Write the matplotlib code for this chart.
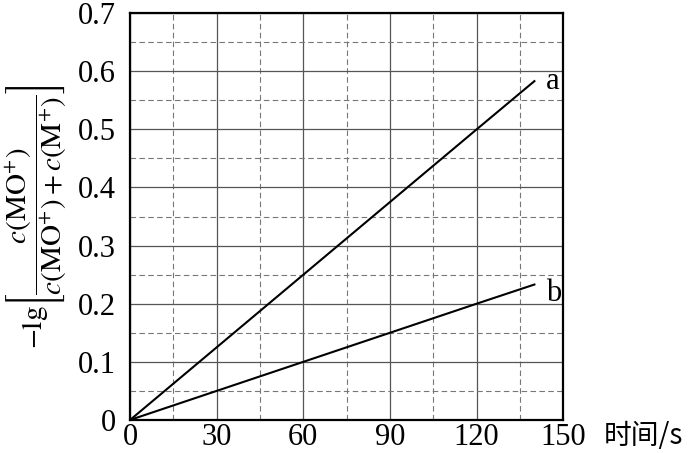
import numpy as np
import matplotlib.pyplot as plt
from matplotlib.ticker import MultipleLocator

plt.rcParams['font.family'] = ['Liberation Serif', 'Noto Sans CJK SC']
plt.rcParams['mathtext.fontset'] = 'stix'

time_s = [0, 60, 120, 140]
line_a = [0, 0.25, 0.50, 0.583]
line_b = [0, 0.10, 0.20, 0.233]
x_ticks = [0, 30, 60, 90, 120, 150]
y_ticks = [0, 0.1, 0.2, 0.3, 0.4, 0.5, 0.6, 0.7]

fig = plt.figure(figsize=(6.92, 4.53), dpi=100)
ax = fig.add_axes([0.188, 0.073, 0.626, 0.898])

ax.plot(time_s, line_a, color='black', lw=1.5, zorder=3)
ax.plot(time_s, line_b, color='black', lw=1.5, zorder=3)
ax.text(time_s[-1] + 4, line_a[-1], 'a', fontsize=22, va='center', ha='left')
ax.text(time_s[-1] + 4, line_b[-1] - 0.015, 'b', fontsize=22, va='center', ha='left')

ax.set_xlim(0, 150)
ax.set_ylim(0, 0.7)
ax.set_xticks(x_ticks)
ax.set_yticks(y_ticks)
ax.set_xticklabels([str(v) for v in x_ticks])
ax.set_yticklabels(['0'] + ['%.1f' % v for v in y_ticks[1:]])
ax.xaxis.set_minor_locator(MultipleLocator(15))
ax.yaxis.set_minor_locator(MultipleLocator(0.05))
ax.tick_params(which='both', length=0, labelsize=22)
ax.tick_params(axis='x', pad=2)
ax.tick_params(axis='y', pad=10)

ax.grid(which='major', color='#555555', lw=0.9, ls='-')
ax.grid(which='minor', color='#777777', lw=0.8, ls=(0, (5, 3)))
ax.set_axisbelow(True)
for s in ax.spines.values():
    s.set_linewidth(1.6)

ax.set_ylabel(r'$-\mathrm{lg}\left[\dfrac{c(\mathrm{MO^{+}})}{c(\mathrm{MO^{+}})+c(\mathrm{M^{+}})}\right]$',
              fontsize=21, labelpad=6)
fig.text(0.872, 0.038, '时间/s', fontsize=20, va='center', ha='left',
         family=['Noto Sans CJK SC', 'DejaVu Sans'])

fig.savefig('out.png', dpi=100)
